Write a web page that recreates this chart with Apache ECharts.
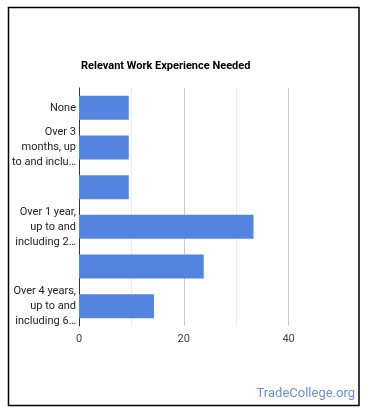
<!DOCTYPE html>
<html>
<head>
<meta charset="utf-8">
<script src="https://cdn.jsdelivr.net/npm/echarts@6/dist/echarts.min.js"></script>
<style>
html,body{margin:0;padding:0;background:#fff;}
#chart{width:370px;height:417px;}
</style>
</head>
<body>
<div id="chart"></div>
<script>
const categories = [
  "None",
  "Over 3 months, up to and including 6 months",
  "Over 6 months, up to and including 1 year",
  "Over 1 year, up to and including 2 years",
  "Over 2 years, up to and including 4 years",
  "Over 4 years, up to and including 6 years"
];
const tickLabels = [
  "None",
  "Over 3\nmonths, up\nto and inclu…",
  "",
  "Over 1 year,\nup to and\nincluding 2…",
  "",
  "Over 4 years,\nup to and\nincluding 6…"
];
const values = [9.5, 9.5, 9.5, 33.3, 23.8, 14.3];
const xTickLabels = ["0", "20", "40"];

const chart = echarts.init(document.getElementById('chart'), null, {renderer: 'canvas'});
chart.setOption({
  animation: false,
  textStyle: {fontFamily: 'Roboto'},
  title: {
    text: 'Relevant Work Experience Needed',
    left: 76, top: 56,
    textStyle: {fontSize: 11, fontWeight: 'bold', color: '#000', fontFamily: 'Roboto'}
  },
  grid: {left: 79, right: 29, top: 88, bottom: 91, containLabel: false},
  xAxis: {
    type: 'value', min: 0, max: 50, interval: 10,
    axisLine: {show: false}, axisTick: {show: false},
    splitLine: {show: true, showMaxLine: false, lineStyle: {color: ['#cccccc', '#ebebeb'], width: 1}},
    axisLabel: {
      color: '#444', fontSize: 11, margin: 8,
      formatter: function (v) { return xTickLabels.indexOf(String(v)) >= 0 ? String(v) : ''; },
      showMaxLabel: false
    }
  },
  yAxis: {
    type: 'category', data: categories, inverse: true,
    axisLine: {show: true, lineStyle: {color: '#333', width: 1}},
    axisTick: {show: false},
    axisLabel: {
      color: '#222', fontSize: 11, lineHeight: 15, margin: 3, align: 'right', interval: 0,
      formatter: function (v, i) { return tickLabels[i]; }
    }
  },
  series: [{
    type: 'bar', data: values, barWidth: 24,
    itemStyle: {color: '#5384e0'}
  }],
  graphic: [
    {type: 'rect', shape: {x: 8.5, y: 7.5, width: 350.5, height: 398}, style: {fill: 'none', stroke: '#000', lineWidth: 1.5}, silent: true},
    {type: 'text', right: 15, top: 387, style: {text: 'TradeCollege.org', fill: '#6a8fd8', font: '13px Roboto'}}
  ]
});
</script>
</body>
</html>
